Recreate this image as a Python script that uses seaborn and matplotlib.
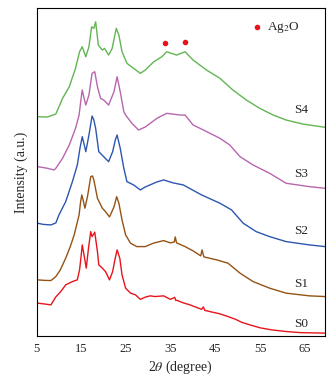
import pandas as pd
import matplotlib
matplotlib.use("Agg")
import matplotlib.pyplot as plt
import seaborn as sns

# =============================
# DATOS
# =============================
S0_X = [5.2, 6.5, 8.2, 9.3, 10.4, 11.5, 13.0, 14.1, 14.6, 14.9, 15.2, 15.6, 16.1, 16.6,
        17.1, 17.4, 18.0, 18.6, 18.9, 19.7, 20.4, 21.3, 22.0, 22.5, 23.0, 23.6, 24.1,
        24.9, 26.0, 27.1, 28.2, 29.3, 30.4, 31.5, 33.4, 34.9, 35.9, 36.1, 36.4, 37.8,
        39.3, 41.9, 42.3, 42.6, 44.0, 46.0, 47.8, 49.5, 51.0, 53.0, 55.0, 57.5, 60.8,
        64.0, 69.5]
S0_Y = [32.7, 32, 31, 39, 44.3, 51, 54.3, 56, 66, 77.7, 91, 81, 67.7, 87.7,
        104.3, 99.3, 103.7, 84.3, 71, 67.7, 64.3, 56, 64.3, 76, 86, 77.7, 61,
        47.7, 42.7, 41, 36.5, 38.7, 40, 39.3, 40, 36.5, 38.5, 35.5, 35.5, 33,
        31, 26.5, 29, 25.5, 24, 22, 19.3, 16.5, 13.3, 10.5, 8, 6, 4.3,
        3.2, 2.7]

S1_X = [5.2, 6.8, 8.2, 9.3, 10.3, 11.5, 12.5, 13.4, 14.0, 14.5, 14.8, 15.1, 15.4, 15.8,
        16.4, 17.1, 17.5, 17.8, 18.6, 19.7, 20.4, 21.3, 22.3, 22.9, 23.4, 24.1, 24.9,
        26.0, 27.4, 29.3, 31.1, 33.4, 34.9, 35.8, 36.0, 36.3, 38.2, 40.0, 41.7, 42.0,
        42.4, 45.3, 47.8, 50.5, 53.4, 57.1, 60.8, 66.0, 69.5]
S1_Y = [56, 55.5, 55.3, 59.3, 66, 77.7, 89, 101, 112, 121, 133, 141, 136, 127.7,
        140, 159.3, 160, 156, 137.7, 127.7, 124.3, 119, 129, 139.3, 132.7, 116, 101,
        92.7, 89.3, 89.3, 92.7, 95.3, 93, 94, 99, 93, 89.3, 85, 80, 86,
        79, 76, 72.7, 62.7, 54.3, 47.7, 42.7, 40, 39.3]

S2_X = [5.2, 6.5, 8.2, 9.3, 10.0, 11.5, 13.0, 14.1, 14.7, 15.2, 15.6, 16.0, 16.7, 17.4,
        17.8, 18.2, 18.9, 20.0, 21.1, 22.0, 22.6, 23.0, 23.7, 24.5, 25.2, 26.7, 28.2,
        29.3, 31.9, 33.4, 35.6, 37.8, 41.9, 46.0, 48.6, 51.2, 54.1, 57.1, 60.8, 66.0,
        69.5]
S2_Y = [112.7, 111.5, 111, 113, 121, 134.3, 154.3, 171, 188, 199.3, 192, 184.3, 201, 220,
        216, 207.7, 184.3, 179.3, 174.3, 184.3, 196, 201, 187.7, 167.7, 154.3, 151, 146,
        149, 154, 156, 153, 151, 141, 132.7, 126, 112.7, 104.3, 99.3, 94.3, 91,
        89.3]

S3_X = [5.2, 7.4, 8.9, 9.3, 10.8, 12.3, 13.7, 14.5, 14.9, 15.2, 15.6, 16.0, 16.7, 17.4,
        18.0, 18.6, 19.3, 20.0, 21.1, 22.3, 23.0, 23.7, 24.5, 24.9, 26.3, 27.8, 29.3,
        31.9, 34.1, 37.1, 38.2, 40.0, 42.3, 46.0, 48.2, 50.5, 53.4, 57.1, 60.8, 66.0,
        69.5]
S3_Y = [169.3, 167.7, 166, 167.7, 177.7, 191, 207.7, 221, 236, 246, 238, 231, 241, 262.7,
        264.3, 249.3, 237.7, 236, 231, 244.3, 259.3, 244.3, 224.3, 221, 212.7, 206, 209,
        217.7, 222.7, 221, 221, 211, 206, 197.7, 191, 179.3, 171, 162.7, 152.7, 149.3,
        147.7]

S4_X = [5.2, 7.4, 9.3, 10.8, 12.3, 13.7, 14.6, 15.2, 16.0, 16.7, 17.3, 17.8, 18.2, 18.8,
        19.7, 20.2, 21.1, 21.9, 22.8, 23.4, 24.1, 25.2, 26.7, 28.2, 29.3, 31.2, 33.0,
        34.1, 36.3, 38.2, 40.0, 43.0, 46.0, 48.9, 51.9, 54.9, 57.9, 60.8, 64.5, 69.5]
S4_Y = [219.3, 219, 222, 237.7, 249.3, 267.7, 284.3, 289.3, 279.3, 289.3, 309.3, 307.7, 314.3, 291,
        286, 287.7, 281, 287.7, 307.7, 301, 284.3, 272.7, 267.7, 262.7, 266, 274.3, 279.3,
        284.3, 281, 284.3, 276, 266, 257.7, 246, 236, 227.7, 221, 216, 212, 208.7]

MUESTRAS = ["S0", "S1", "S2", "S3", "S4"]
COLORES = ["#e8141c", "#955214", "#2d56b0", "#b866ae", "#62b552"]
ETIQUETA_Y = [12, 52, 105, 162, 226]

# Marcadores de Ag2O
AG2O_X = [33.8, 38.2]
AG2O_Y = [292.7, 293.7]

# =============================
# DATAFRAME
# =============================
series = {"S0": (S0_X, S0_Y), "S1": (S1_X, S1_Y), "S2": (S2_X, S2_Y),
          "S3": (S3_X, S3_Y), "S4": (S4_X, S4_Y)}
frames = []
for nombre, (xs, ys) in series.items():
    frames.append(pd.DataFrame({"two_theta": xs, "intensity": ys, "sample": nombre}))
df = pd.concat(frames, ignore_index=True)

# =============================
# GRAFICADO
# =============================
sns.set_style("white")
plt.rcParams["font.family"] = ["Liberation Serif", "DejaVu Serif"]
plt.rcParams["mathtext.fontset"] = "stix"

fig = plt.figure(figsize=(3.33, 3.86), dpi=100)
ax = fig.add_axes([0.110, 0.130, 0.866, 0.849])

sns.lineplot(
    data=df, x="two_theta", y="intensity", hue="sample",
    hue_order=MUESTRAS, palette=COLORES, sort=False,
    linewidth=1.0, legend=False, ax=ax
)

ax.scatter(AG2O_X, AG2O_Y, color="#e8141c", s=9, zorder=5)
ax.scatter([54.3], [308.7], color="#e8141c", s=9, zorder=5)
ax.text(56.6, 308.7, r"Ag$_2$O", fontsize=9.5, va="center", ha="left")

for nombre, yy in zip(MUESTRAS, ETIQUETA_Y):
    ax.text(64.1, yy, nombre, fontsize=9.5, ha="center", va="center")

ax.set_xlim(5, 69.5)
ax.set_ylim(0, 328)
ax.set_xticks([5, 15, 25, 35, 45, 55, 65])
ax.set_yticks([])
ax.tick_params(axis="x", direction="in", length=3, width=0.8, labelsize=9, pad=5)
for sp in ax.spines.values():
    sp.set_color("black")
    sp.set_linewidth(0.8)

ax.set_xlabel(r"2$\theta$ (degree)", fontsize=10, labelpad=3)
ax.set_ylabel("Intensity (a.u.)", fontsize=10, labelpad=6)

fig.savefig("out.png", dpi=100)
